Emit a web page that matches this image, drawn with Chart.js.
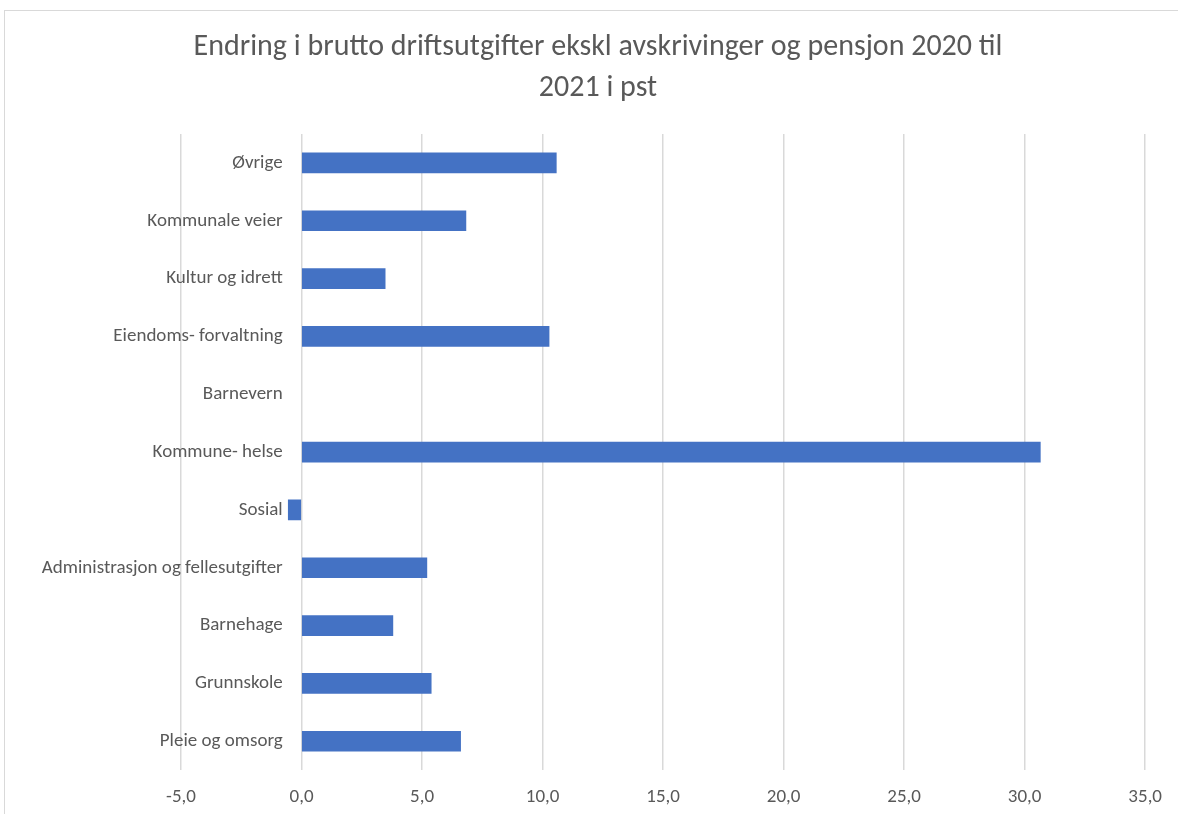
<!DOCTYPE html>
<html>
<head>
<meta charset="utf-8">
<title>Endring i brutto driftsutgifter</title>
<script src="https://cdn.jsdelivr.net/npm/chart.js@4"></script>
<style>
    html, body { margin: 0; padding: 0; background: #fff; overflow: hidden; }
    #wrap { position: relative; width: 1178px; height: 814px; }
    #frame {
        position: absolute; left: 4px; top: 10px; width: 1200px; height: 900px;
        border: 1.5px solid #d9d9d9; pointer-events: none;
    }
    canvas { position: absolute; left: 0; top: 0; }
</style>
</head>
<body>
<div id="wrap">
    <div id="frame"></div>
    <canvas id="chart" width="1178" height="814"></canvas>
</div>
<script>
// --- 데이터 (Excel 순서: 아래에서 위로) ---
const categories = [
    "Pleie og omsorg",
    "Grunnskole",
    "Barnehage",
    "Administrasjon og fellesutgifter",
    "Sosial",
    "Kommune- helse",
    "Barnevern",
    "Eiendoms- forvaltning",
    "Kultur og idrett",
    "Kommunale veier",
    "Øvrige"
];
// Barnevern: 값 없음 (막대 없음)
const changePct = [6.6, 5.38, 3.79, 5.2, -0.55, 30.65, null, 10.27, 3.47, 6.82, 10.57];

const titleLines = ["Endring i brutto driftsutgifter ekskl avskrivinger og pensjon 2020 til", "2021 i pst"];
const xMin = -5;
const xMax = 35;
const xStep = 5;

const FONT = 'Carlito, Calibri, Lato, sans-serif';
const TEXT_COLOR = '#595959';

// 제목은 차트 프레임 전체 기준으로 가운데 정렬 (layout padding 영향 없이)
const frameTitle = {
    id: 'frameTitle',
    afterDraw(chart) {
        const c = chart.ctx;
        c.save();
        c.fillStyle = TEXT_COLOR;
        c.font = `30px ${FONT}`;
        c.textAlign = 'center';
        c.textBaseline = 'middle';
        titleLines.forEach((line, i) => c.fillText(line, 598, 47 + i * 41));
        c.restore();
    }
};

const ctx = document.getElementById("chart").getContext("2d");

new Chart(ctx, {
    type: 'bar',
    data: {
        labels: categories,
        datasets: [{
            data: changePct,
            backgroundColor: '#4472c4',
            borderWidth: 0,
            barThickness: 20
        }]
    },
    options: {
        indexAxis: 'y',
        responsive: false,
        animation: false,
        layout: { padding: { left: 181, right: 30, top: 134, bottom: -11 } },
        plugins: {
            legend: { display: false },
            tooltip: { enabled: false },
            title: { display: false }
        },
        scales: {
            x: {
                min: xMin,
                max: xMax,
                ticks: {
                    stepSize: xStep,
                    color: TEXT_COLOR,
                    font: { family: FONT, size: 19 },
                    padding: 16,
                    callback: (v) => Number(v).toFixed(1).replace('.', ',')
                },
                grid: { color: '#d9d9d9', lineWidth: 1.5, drawTicks: false },
                border: { display: false }
            },
            y: {
                reverse: true,
                // 라벨이 0 눈금선 왼쪽에 조금 떨어져 표시되도록
                position: { x: -0.78 },
                ticks: {
                    color: TEXT_COLOR,
                    font: { family: FONT, size: 19 }
                },
                grid: { display: false, drawTicks: false },
                border: { display: false }
            }
        }
    },
    plugins: [frameTitle]
});
</script>
</body>
</html>
